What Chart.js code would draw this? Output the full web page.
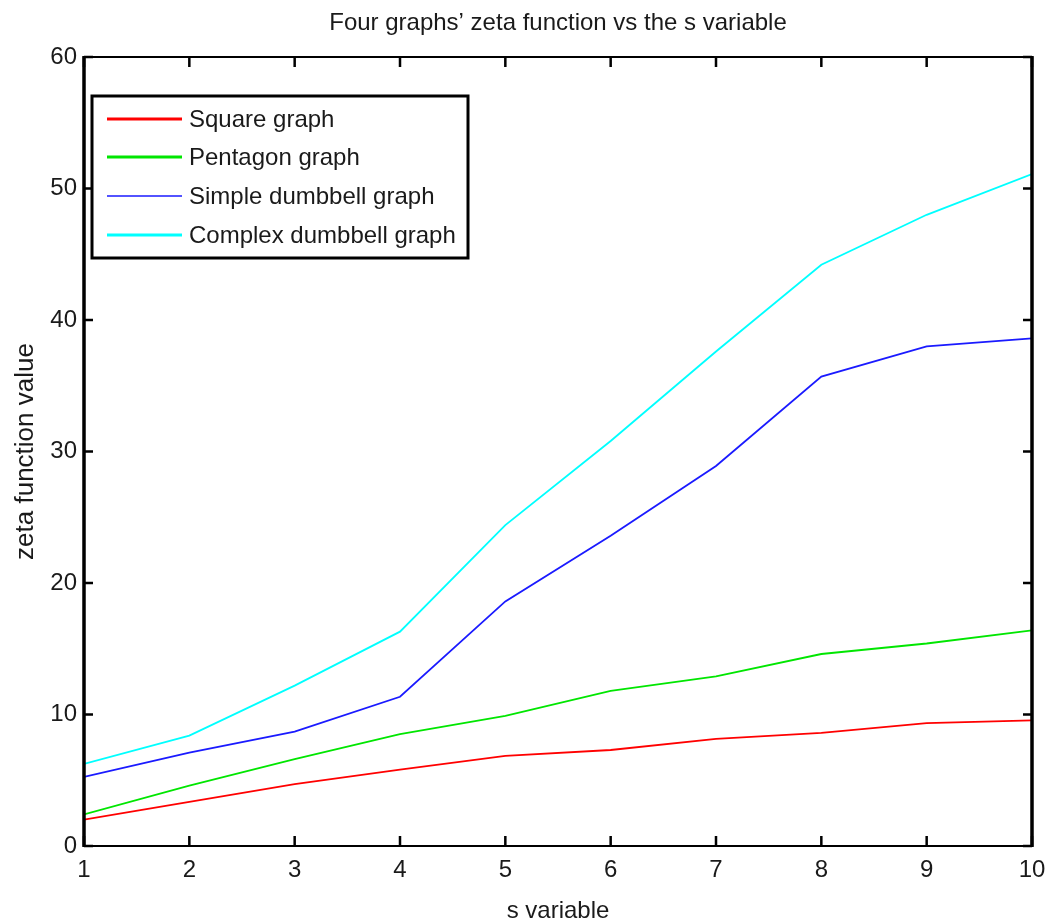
<!DOCTYPE html>
<html>
<head>
<meta charset="utf-8">
<title>Zeta function vs s</title>
<script src="https://cdn.jsdelivr.net/npm/chart.js@4"></script>
<style>
  html, body { margin: 0; padding: 0; background: #fff; }
  #wrap { width: 1048px; height: 922px; }
</style>
</head>
<body>
<div id="wrap"><canvas id="zeta" width="1048" height="922"></canvas></div>
<script>
// valores
const sValues = [1, 2, 3, 4, 5, 6, 7, 8, 9, 10];
const squareGraph = [2.0, 3.35, 4.7, 5.8, 6.85, 7.3, 8.15, 8.6, 9.35, 9.55];
const pentagonGraph = [2.4, 4.6, 6.6, 8.5, 9.9, 11.8, 12.9, 14.6, 15.4, 16.4];
const simpleDumbbell = [5.25, 7.1, 8.7, 11.35, 18.6, 23.6, 28.9, 35.7, 38.0, 38.6];
const complexDumbbell = [6.25, 8.4, 12.2, 16.3, 24.4, 30.8, 37.6, 44.2, 48.0, 51.1];
const seriesNames = ['Square graph', 'Pentagon graph', 'Simple dumbbell graph', 'Complex dumbbell graph'];
const yTicks = [0, 10, 20, 30, 40, 50, 60];
const chartTitle = 'Four graphs\u2019 zeta function vs the s variable';

const FONT = "'Liberation Sans', Arial, sans-serif";
const TEXT = '#1a1a1a';

const toPoints = vals => vals.map((v, i) => ({ x: sValues[i], y: v }));

// titulo centrado sobre el area del grafico (no sobre todo el canvas)
const plotTitle = {
  id: 'plotTitle',
  afterDraw(chart) {
    const { ctx, chartArea: a } = chart;
    ctx.save();
    ctx.fillStyle = TEXT;
    ctx.font = '24px ' + FONT;
    ctx.textAlign = 'center';
    ctx.textBaseline = 'middle';
    ctx.fillText(chartTitle, (a.left + a.right) / 2, 23);
    ctx.restore();
  }
};

// marco tipo matlab con marcas hacia dentro
const framePlugin = {
  id: 'frame',
  afterDatasetsDraw(chart) {
    const { ctx, chartArea: a, scales } = chart;
    ctx.save();
    ctx.strokeStyle = '#000';
    ctx.lineCap = 'butt';
    ctx.lineWidth = 2.5;
    sValues.forEach(v => {
      const px = scales.x.getPixelForValue(v);
      ctx.beginPath();
      ctx.moveTo(px, a.bottom); ctx.lineTo(px, a.bottom - 10);
      ctx.moveTo(px, a.top); ctx.lineTo(px, a.top + 10);
      ctx.stroke();
    });
    yTicks.forEach(v => {
      const py = scales.y.getPixelForValue(v);
      ctx.beginPath();
      ctx.moveTo(a.left, py); ctx.lineTo(a.left + 9, py);
      ctx.moveTo(a.right, py); ctx.lineTo(a.right - 9, py);
      ctx.stroke();
    });
    ctx.lineWidth = 2;
    ctx.beginPath();
    ctx.moveTo(a.left, a.top); ctx.lineTo(a.right, a.top);
    ctx.moveTo(a.left, a.bottom); ctx.lineTo(a.right, a.bottom);
    ctx.stroke();
    ctx.lineWidth = 3.5;
    ctx.beginPath();
    ctx.moveTo(a.left, a.top - 1); ctx.lineTo(a.left, a.bottom + 1);
    ctx.moveTo(a.right, a.top - 1); ctx.lineTo(a.right, a.bottom + 1);
    ctx.stroke();
    ctx.restore();
  }
};

// leyenda en caja dentro del area
const boxLegend = {
  id: 'boxLegend',
  afterDraw(chart) {
    const { ctx, chartArea: a } = chart;
    const x0 = a.left + 8, y0 = a.top + 39, w = 376, h = 162;
    ctx.save();
    ctx.fillStyle = '#fff';
    ctx.fillRect(x0, y0, w, h);
    ctx.strokeStyle = '#000';
    ctx.lineWidth = 3;
    ctx.strokeRect(x0, y0, w, h);
    const rows = [23, 61, 100, 139];
    const widths = [3, 3, 1.5, 3];
    chart.data.datasets.forEach((ds, i) => {
      const y = y0 + rows[i];
      ctx.strokeStyle = ds.borderColor;
      ctx.lineWidth = widths[i];
      ctx.beginPath();
      ctx.moveTo(x0 + 15, y); ctx.lineTo(x0 + 90, y);
      ctx.stroke();
      ctx.fillStyle = TEXT;
      ctx.font = '24px ' + FONT;
      ctx.textBaseline = 'middle';
      ctx.fillText(ds.label, x0 + 97, y + 1);
    });
    ctx.restore();
  }
};

const colors = ['#ff0000', '#00e600', '#1a1aff', '#00ffff'];
const allSeries = [squareGraph, pentagonGraph, simpleDumbbell, complexDumbbell];

new Chart(document.getElementById('zeta'), {
  type: 'line',
  data: {
    datasets: allSeries.map((vals, i) => ({
      label: seriesNames[i],
      data: toPoints(vals),
      borderColor: colors[i],
      backgroundColor: colors[i],
      borderWidth: 1.8,
      pointRadius: 0,
      tension: 0,
      fill: false
    }))
  },
  options: {
    responsive: false,
    animation: false,
    layout: { padding: { left: 0, right: 16, top: 57, bottom: 0 } },
    plugins: {
      legend: { display: false },
      tooltip: { enabled: false },
      title: { display: false }
    },
    scales: {
      x: {
        type: 'linear',
        min: 1,
        max: 10,
        grid: { display: false, drawTicks: false },
        border: { display: false },
        ticks: {
          stepSize: 1,
          color: TEXT,
          padding: 10,
          font: { family: FONT, size: 24 }
        },
        title: {
          display: true,
          text: 's variable',
          color: TEXT,
          font: { family: FONT, size: 24 },
          padding: { top: 0, bottom: -4 }
        },
        afterFit(scale) {
          scale.height = 76;
          scale.paddingLeft = 0;
          scale.paddingRight = 0;
        }
      },
      y: {
        min: 0,
        max: 60,
        grid: { display: false, drawTicks: false },
        border: { display: false },
        ticks: {
          stepSize: 10,
          color: TEXT,
          padding: 7,
          font: { family: FONT, size: 24 }
        },
        title: {
          display: true,
          text: 'zeta function value',
          color: TEXT,
          font: { family: FONT, size: 26 },
          padding: { top: 10, bottom: 0 }
        },
        afterFit(scale) { scale.width = 84; }
      }
    }
  },
  plugins: [framePlugin, boxLegend, plotTitle]
});
</script>
</body>
</html>
